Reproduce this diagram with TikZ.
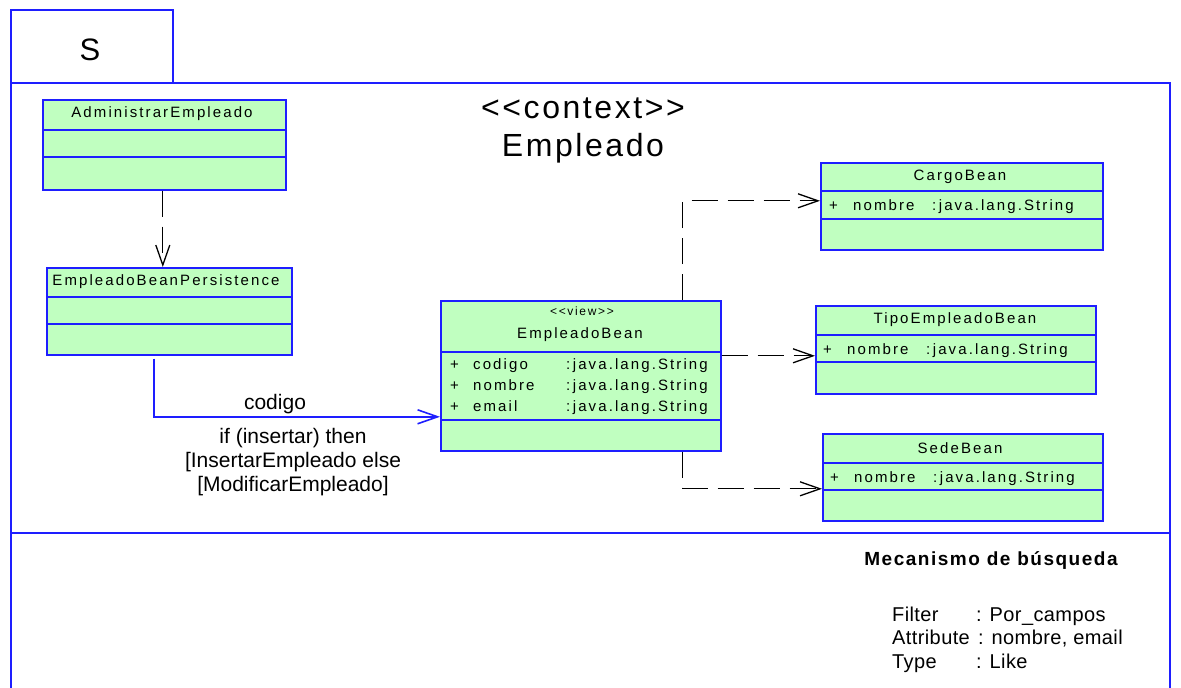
\documentclass[tikz,border=0pt]{standalone}
\usepackage{fontspec}
\setmainfont{Liberation Sans}
\newfontfamily\umlfamily[LetterSpace=14]{Liberation Sans}
\newfontfamily\notefamily[LetterSpace=2]{Liberation Sans}
\newfontfamily\titlefamily[LetterSpace=8]{Liberation Sans}
\newcommand\umlfont{\umlfamily\fontsize{15}{18}\selectfont}
\usetikzlibrary{arrows.meta}
\usetikzlibrary{positioning}
\definecolor{umlblue}{RGB}{30,30,255}
\definecolor{umlgreen}{RGB}{192,255,192}

\begin{document}
\begin{tikzpicture}[x=1pt,y=-1pt]
	 \tikzstyle{frame}=[draw=umlblue,line width=1.6pt]
	 \tikzstyle{classbox}=[rectangle,draw=umlblue,fill=umlgreen,line width=1.6pt,anchor=north west,inner sep=0pt]
	 \tikzstyle{classname}=[font=\umlfont,inner sep=0pt]
	 \tikzstyle{attr}=[font=\umlfont,anchor=base west,inner sep=0pt]
	 \tikzstyle{sep}=[draw=umlblue,line width=1.6pt]
	 \tikzstyle{dep}=[draw=black,line width=1.3pt,dash pattern=on 26pt off 10pt,-{Straight Barb[length=20pt,width=14pt]}]
	 \tikzstyle{assoc}=[draw=umlblue,line width=1.6pt,-{Straight Barb[length=20pt,width=14pt]}]
	 \tikzstyle{label}=[font=\fontsize{21}{24}\selectfont,inner sep=0pt]
	 \tikzstyle{note}=[font=\notefamily\fontsize{20}{22}\selectfont,anchor=base west,inner sep=0pt]
	 \useasboundingbox (0,0) rectangle (1181,688);

	 % package frame
	 \draw[frame] (11,688) -- (11,10) -- (173,10) -- (173,83);
	 \draw[frame] (11,83) -- (1170,83) -- (1170,688);
	 \draw[frame] (11,533) -- (1170,533);
	 \node[inner sep=0pt,font=\fontsize{31}{36}\selectfont] (pkg) at (90,50) {S};
	 \node[inner sep=0pt,font=\titlefamily\fontsize{32}{38}\selectfont] (stereo) at (583,108) {{<}{<}context{>}{>}};
	 \node[inner sep=0pt,font=\titlefamily\fontsize{32}{38}\selectfont] (ctx) at (583,148) {Empleado};

	 % classes
	 \node[classbox,minimum width=243pt,minimum height=90pt] (admin) at (42,99) {};
	 \node[classbox,minimum width=245pt,minimum height=87pt] (persist) at (46,267) {};
	 \node[classbox,minimum width=280pt,minimum height=150pt] (bean) at (440,300) {};
	 \node[classbox,minimum width=282pt,minimum height=87pt] (cargo) at (820,162) {};
	 \node[classbox,minimum width=280pt,minimum height=88pt] (tipo) at (815,305) {};
	 \node[classbox,minimum width=280pt,minimum height=87pt] (sede) at (822,433) {};
	 \foreach \n/\a/\b in {admin/31/58,persist/30/57,bean/52/120,cargo/29/57,tipo/30/57,sede/30/57} {
		 \draw[sep] ([yshift=-\a pt]\n.north west) -- ([yshift=-\a pt]\n.north east);
		 \draw[sep] ([yshift=-\b pt]\n.north west) -- ([yshift=-\b pt]\n.north east);
	 }

	 \node[classname] (adminname) at (162,114) {AdministrarEmpleado};
	 \node[classname] (persistname) at (166,282) {EmpleadoBeanPersistence};
	 \node[classname,font=\umlfamily\fontsize{12}{14}\selectfont] (beanstereo) at (582,311) {{<}{<}view{>}{>}};
	 \node[classname] (beanname) at (580,335) {EmpleadoBean};
	 \node[classname] (cargoname) at (960,177) {CargoBean};
	 \node[classname] (tiponame) at (955,320) {TipoEmpleadoBean};
	 \node[classname] (sedename) at (960,448) {SedeBean};

	 % attributes
	 \foreach \y/\a in {369/codigo,390/nombre,411/email} {
		 \node[attr] at (450,\y) {+};
		 \node[attr] at (473,\y) {\a};
		 \node[attr] at (566,\y) {:\,java.lang.String};
	 }
	 \foreach \x/\y in {829/210,823/354,830/482} {
		 \node[attr] at (\x,\y) {+};
		 \node[attr] at (\x+24,\y) {nombre};
		 \node[attr] at (\x+103,\y) {:\,java.lang.String};
	 }

	 % relations
	 \draw[dep] ([xshift=-1.5pt]admin.south) -- ([xshift=-1.5pt]admin.south |- persist.north);
	 \draw[assoc] ([xshift=-15.5pt,yshift=-3pt]persist.south) |- ([yshift=-41pt]bean.west);
	 \node[label] (code) at (275,404) {codigo};
	 \node[label,align=center] (cond) at (293,462) {if (insertar) then\\ {[}InsertarEmpleado else\\ {[}ModificarEmpleado]};
	 \draw[dep] ([xshift=102pt]bean.north) |- ([yshift=5.5pt]cargo.west);
	 \draw[dep] ([yshift=-6pt]bean.east |- tipo.west) -- ([yshift=-6pt]tipo.west);
	 \draw[dep] ([xshift=102pt]bean.south) |- ([yshift=-11.5pt]sede.west);

	 % search note
	 \node[inner sep=0pt,font=\titlefamily\bfseries\fontsize{19}{22}\selectfont] (mech) at (991,560) {Mecanismo de búsqueda};
	 \node[note] (filter) at (892,621) {Filter};
	 \node[note] (filterval) at (976,621) {: Por\_campos};
	 \node[note] (attrib) at (892,644) {Attribute};
	 \node[note] (attribval) at (972,644) {\ : nombre, email};
	 \node[note] (type) at (892,668) {Type};
	 \node[note] (typeval) at (976,668) {: Like};
\end{tikzpicture}
\end{document}
